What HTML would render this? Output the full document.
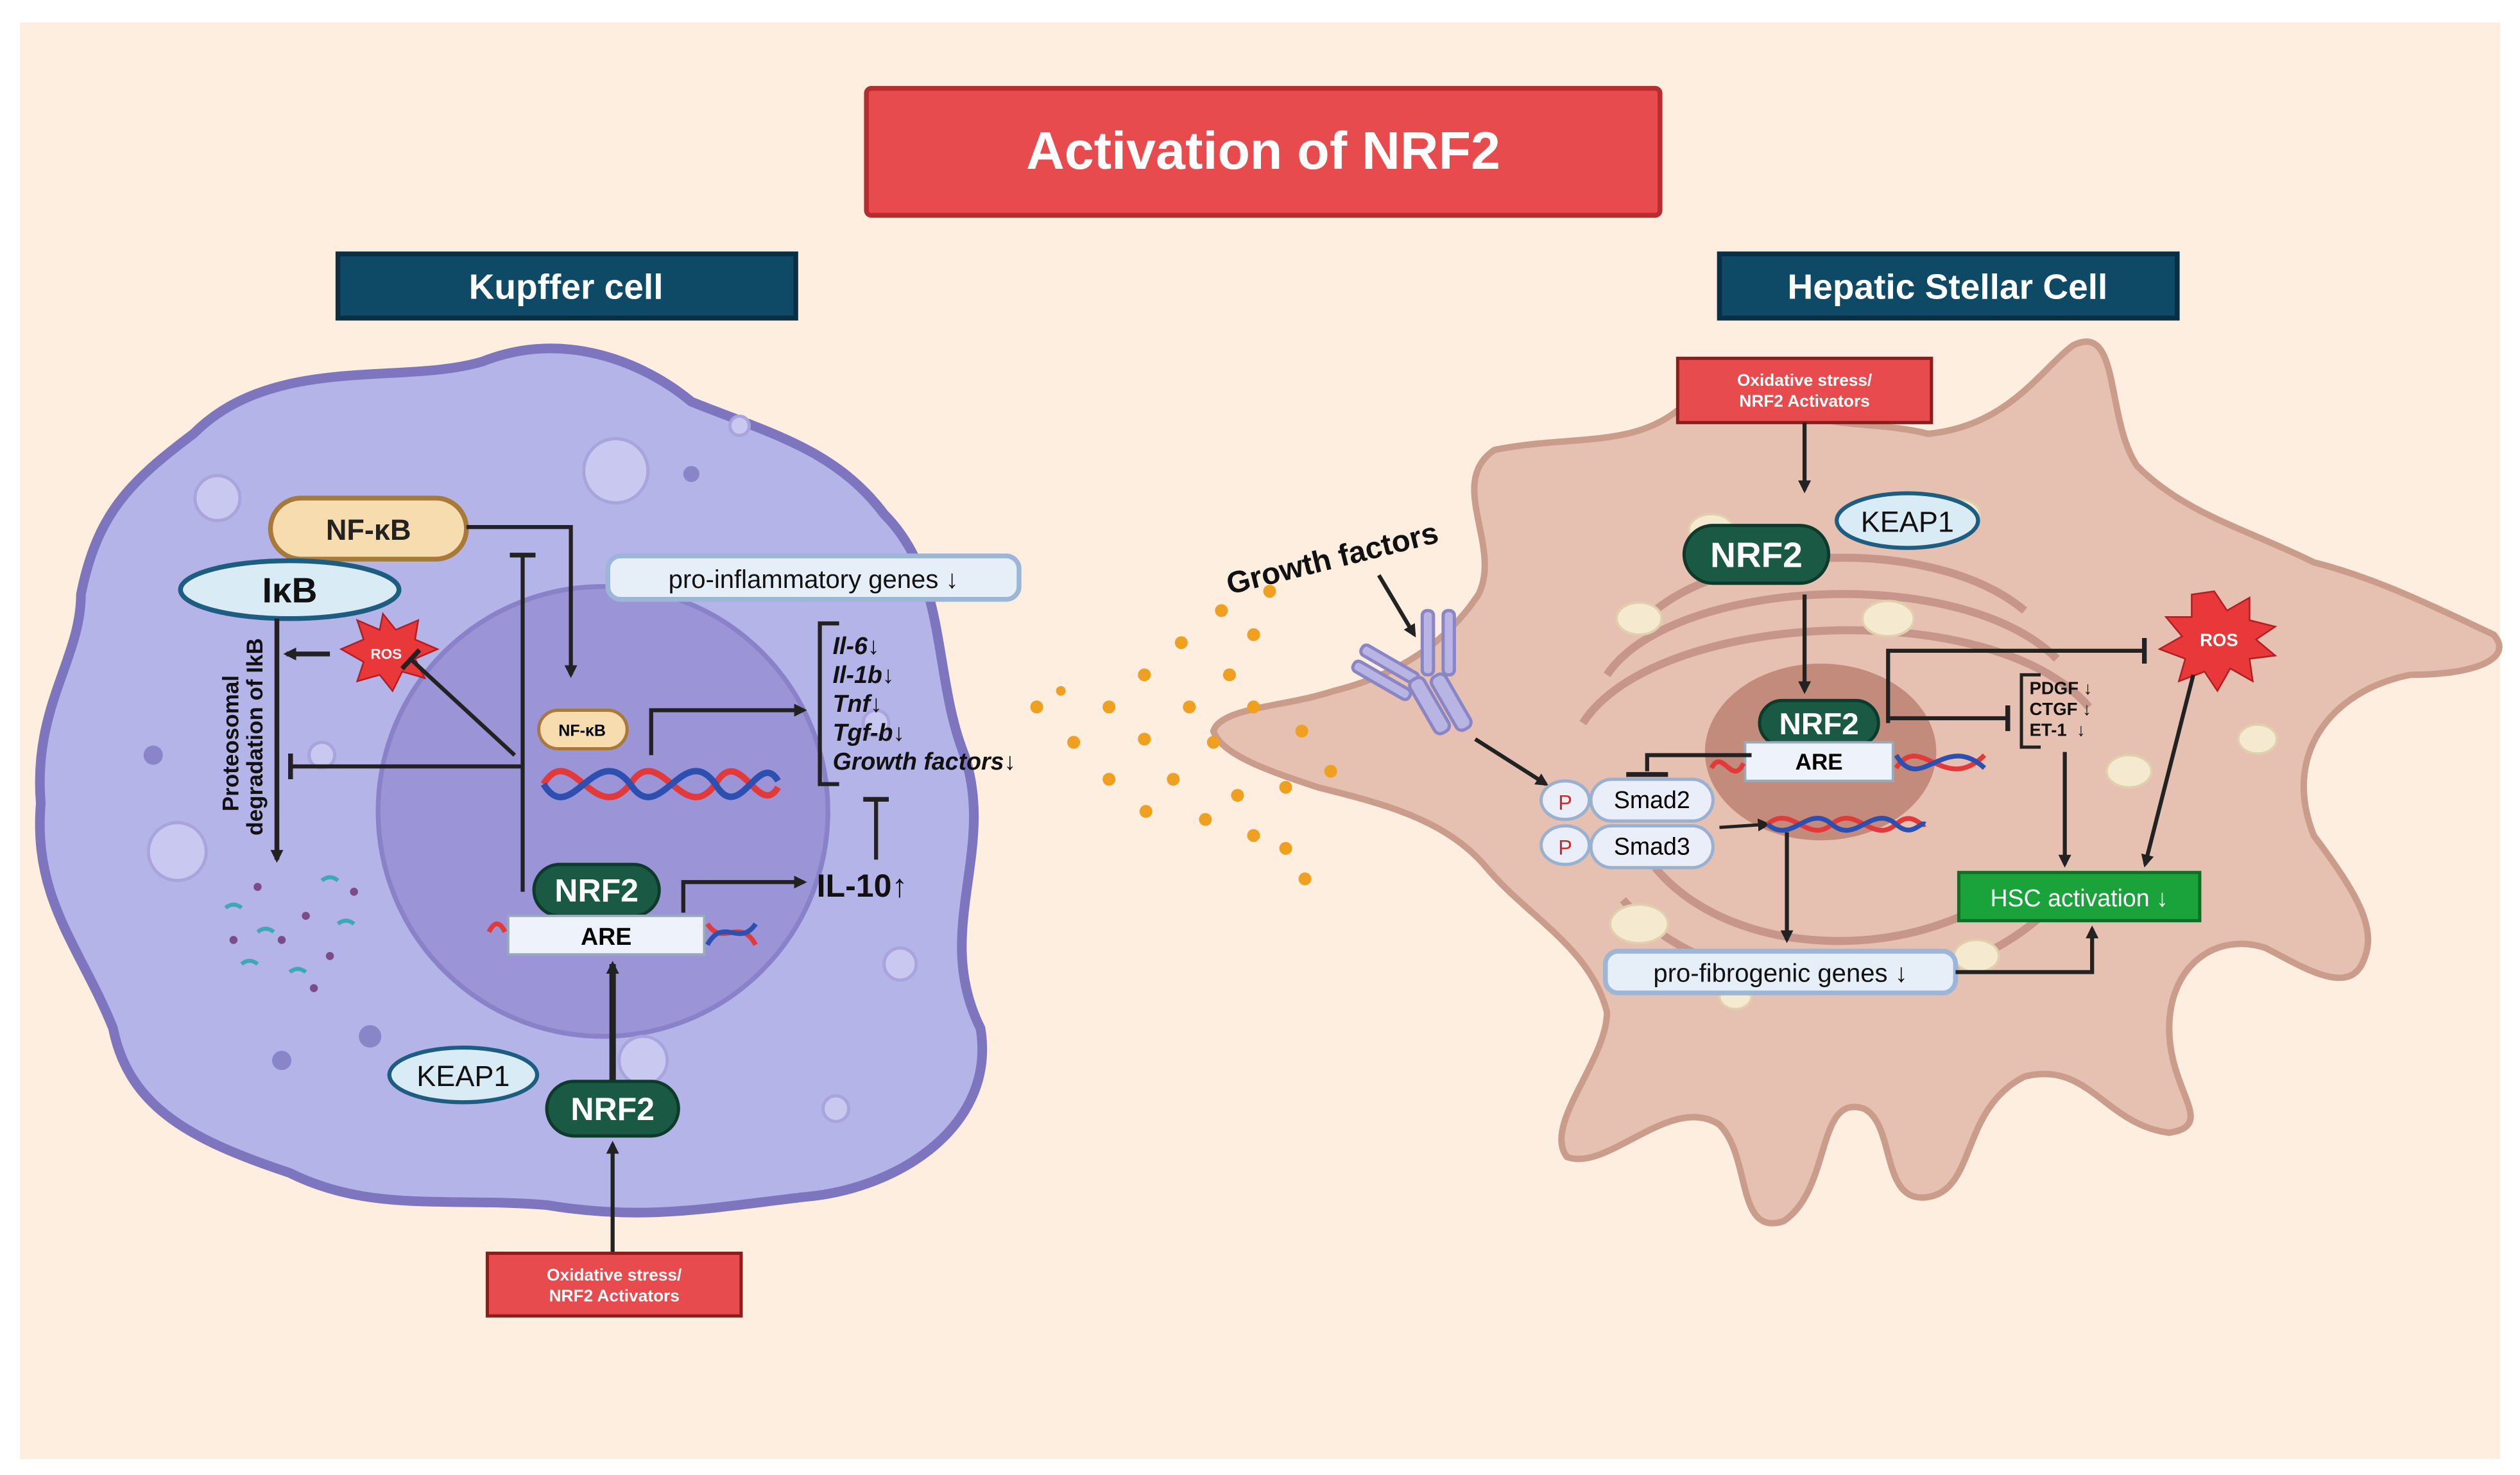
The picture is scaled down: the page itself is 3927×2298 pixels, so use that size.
<!DOCTYPE html>
<html><head><meta charset="utf-8"><style>
html,body{margin:0;padding:0;background:#fff;}
svg{display:block;}
text{font-family:"Liberation Sans",sans-serif;}
</style></head><body>
<svg width="3927" height="2298" viewBox="0 0 1568 918" xmlns="http://www.w3.org/2000/svg">
<defs>
<marker id="ar" markerWidth="8" markerHeight="8" refX="6" refY="4" orient="auto" markerUnits="userSpaceOnUse"><path d="M0,0 L8,4 L0,8 z" fill="#222"/></marker>
<marker id="tb" markerWidth="4" markerHeight="16" refX="2" refY="8" orient="auto" markerUnits="userSpaceOnUse"><rect x="0" y="0" width="3" height="16" fill="#222"/></marker>
</defs>
<rect width="1568" height="918" fill="#fff"/>
<rect x="12" y="14" width="1544" height="894" fill="#fdeedf"/>

<!-- Kupffer cell -->
<path d="M120,270 C170,220 250,240 300,225 C350,205 400,225 430,250 C480,270 520,280 550,320 C590,360 580,420 600,470 C620,530 580,580 610,640 C620,700 560,740 500,745 C440,752 400,760 340,750 C280,745 230,755 180,730 C120,710 80,690 70,640 C50,590 20,560 25,500 C20,440 50,410 50,370 C60,320 80,300 120,270 Z" fill="#b4b4e8" stroke="#7d76bf" stroke-width="6"/>
<circle cx="375" cy="505" r="140" fill="#9b95d8" stroke="#8a82c8" stroke-width="3"/>
<g fill="#c8c8f0" stroke="#a9a4dc" stroke-width="2">
<circle cx="383" cy="293" r="20"/><circle cx="135" cy="310" r="14"/><circle cx="110" cy="530" r="18"/><circle cx="400" cy="660" r="15"/><circle cx="200" cy="470" r="8"/><circle cx="545" cy="450" r="8"/><circle cx="460" cy="265" r="6"/><circle cx="560" cy="600" r="10"/><circle cx="520" cy="690" r="8"/>
</g>
<g fill="#8a85c8"><circle cx="230" cy="645" r="7"/><circle cx="175" cy="660" r="6"/><circle cx="430" cy="295" r="5"/><circle cx="95" cy="470" r="6"/></g>

<!-- HSC -->
<path d="M930,280 C980,270 1020,280 1050,250 C1060,225 1090,215 1100,240 C1120,270 1160,260 1200,270 C1250,265 1270,230 1290,215 C1320,200 1310,260 1330,290 C1360,320 1400,330 1440,350 C1480,360 1520,380 1552,395 C1565,410 1540,420 1500,420 C1450,430 1420,470 1440,520 C1470,560 1480,580 1470,600 C1460,620 1430,600 1410,590 C1380,580 1350,600 1350,640 C1350,680 1380,700 1350,705 C1310,700 1300,660 1260,670 C1220,690 1230,740 1200,745 C1170,750 1180,700 1160,690 C1130,680 1140,740 1110,760 C1080,770 1090,720 1070,700 C1040,680 1000,730 975,720 C960,700 1000,660 1000,630 C990,590 950,570 925,540 C900,510 860,500 820,490 C790,480 760,470 755,455 C760,440 800,440 830,430 C870,420 900,400 920,370 C935,340 900,300 930,280 Z" fill="#e6c0b0" stroke="#c99c8c" stroke-width="4"/>
<g fill="none" stroke="#c7968a" stroke-width="5">
<path d="M1020,390 C1060,340 1200,330 1260,380"/><path d="M1000,420 C1040,360 1220,350 1280,410"/><path d="M985,450 C1030,380 1240,370 1300,440"/>
<path d="M1030,540 C1080,600 1200,600 1260,545"/><path d="M1010,560 C1070,630 1220,630 1280,560"/>
</g>
<ellipse cx="1133" cy="468" rx="72" ry="55" fill="#c38b7c"/>
<g fill="#f5ead0" stroke="#e0d0b0" stroke-width="1.5">
<ellipse cx="1065" cy="330" rx="14" ry="10"/><ellipse cx="1175" cy="385" rx="16" ry="11"/><ellipse cx="1020" cy="385" rx="14" ry="10"/><ellipse cx="1325" cy="480" rx="14" ry="10"/><ellipse cx="1020" cy="575" rx="18" ry="12"/><ellipse cx="1230" cy="595" rx="14" ry="10"/><ellipse cx="1220" cy="320" rx="12" ry="9"/><ellipse cx="1405" cy="460" rx="12" ry="9"/><ellipse cx="1080" cy="620" rx="10" ry="8"/>
</g>

<!-- Title -->
<rect x="539" y="55" width="494" height="79" rx="3" fill="#e84b4d" stroke="#b52d2f" stroke-width="3"/>
<text x="786" y="105" text-anchor="middle" font-size="33" font-weight="bold" fill="#fff">Activation of NRF2</text>
<rect x="210" y="158" width="285" height="40" fill="#0e4966" stroke="#0a2f42" stroke-width="3"/>
<text x="352" y="186" text-anchor="middle" font-size="22" font-weight="bold" fill="#fff">Kupffer cell</text>
<rect x="1070" y="158" width="285" height="40" fill="#0e4966" stroke="#0a2f42" stroke-width="3"/>
<text x="1212" y="186" text-anchor="middle" font-size="22" font-weight="bold" fill="#fff">Hepatic Stellar Cell</text>

<!-- Kupffer contents -->
<rect x="168" y="310" width="122" height="38" rx="19" fill="#f6dcae" stroke="#a87a3a" stroke-width="3"/>
<text x="229" y="336" text-anchor="middle" font-size="18" font-weight="bold" fill="#222">NF-κB</text>
<ellipse cx="180" cy="367" rx="68" ry="18" fill="#d9ecf6" stroke="#1d5d82" stroke-width="3"/>
<text x="180" y="375" text-anchor="middle" font-size="22" font-weight="bold" fill="#111">IκB</text>
<polygon points="238,382 246,392 260,386 258,398 272,404 258,410 264,422 250,418 244,430 236,420 222,424 226,412 212,404 226,398 222,386 236,392" fill="#e8383a" stroke="#b01f22"/>
<text x="240" y="410" text-anchor="middle" font-size="9" font-weight="bold" fill="#fff">ROS</text>
<line x1="205" y1="407" x2="178" y2="407" stroke="#222" stroke-width="3" marker-end="url(#ar)"/>
<line x1="172" y1="385" x2="172" y2="535" stroke="#222" stroke-width="3" marker-end="url(#ar)"/>
<text transform="translate(148,505) rotate(-90)" font-size="14" font-weight="bold" fill="#111">Proteosomal</text>
<text transform="translate(163,520) rotate(-90)" font-size="14" font-weight="bold" fill="#111">degradation of IkB</text>
<g stroke-width="2.5" fill="none">
<path d="M140,565 q5,-4 10,0" stroke="#3fa7b5"/><path d="M200,548 q5,-4 10,0" stroke="#3fa7b5"/><path d="M150,600 q5,-4 10,0" stroke="#3fa7b5"/><path d="M180,605 q5,-4 10,0" stroke="#3fa7b5"/><path d="M210,575 q5,-4 10,0" stroke="#3fa7b5"/><path d="M160,580 q5,-4 10,0" stroke="#3fa7b5"/>
</g>
<g fill="#7a4c8a"><circle cx="160" cy="552" r="2.5"/><circle cx="190" cy="570" r="2.5"/><circle cx="175" cy="585" r="2.5"/><circle cx="205" cy="595" r="2.5"/><circle cx="220" cy="555" r="2.5"/><circle cx="145" cy="585" r="2.5"/><circle cx="195" cy="615" r="2.5"/></g>

<path d="M290,328 L355,328 L355,420" fill="none" stroke="#222" stroke-width="2.5" marker-end="url(#ar)"/>
<line x1="325" y1="555" x2="325" y2="345" stroke="#222" stroke-width="2.5" marker-end="url(#tb)"/>
<path d="M325,477 L180,477" fill="none" stroke="#222" stroke-width="2.5" marker-end="url(#tb)"/>
<line x1="320" y1="470" x2="255" y2="410" stroke="#222" stroke-width="2.5" marker-end="url(#tb)"/>
<rect x="335" y="442" width="55" height="24" rx="12" fill="#f6dcae" stroke="#a87a3a" stroke-width="2"/>
<text x="362" y="458" text-anchor="middle" font-size="10" font-weight="bold">NF-κB</text>
<path d="M338,488 C355,460 370,516 392,488 C410,460 425,516 445,488 C460,462 472,510 484,490" stroke="#e23a3a" stroke-width="4" fill="none"/>
<path d="M338,488 C355,516 370,460 392,488 C410,516 425,460 445,488 C460,514 472,466 484,486" stroke="#2c4fb0" stroke-width="4" fill="none"/>
<path d="M405,470 L405,442 L500,442" fill="none" stroke="#222" stroke-width="2.5" marker-end="url(#ar)"/>
<rect x="378" y="346" width="256" height="27" rx="8" fill="#e6eef8" stroke="#9cb6d8" stroke-width="3"/>
<text x="506" y="366" text-anchor="middle" font-size="16" fill="#111">pro-inflammatory genes ↓</text>
<path d="M522,388 L510,388 L510,488 L522,488" fill="none" stroke="#222" stroke-width="2.5"/>
<g font-size="15" font-weight="bold" font-style="italic" fill="#111">
<text x="518" y="407">Il-6↓</text><text x="518" y="425">Il-1b↓</text><text x="518" y="443">Tnf↓</text><text x="518" y="461">Tgf-b↓</text><text x="518" y="479">Growth factors↓</text>
</g>
<line x1="545" y1="535" x2="545" y2="497" stroke="#222" stroke-width="2.5" marker-end="url(#tb)"/>
<rect x="332" y="538" width="78" height="32" rx="16" fill="#1a5a44" stroke="#0d3a2a" stroke-width="2"/>
<text x="371" y="561" text-anchor="middle" font-size="20" font-weight="bold" fill="#fff">NRF2</text>
<rect x="316" y="570" width="122" height="24" fill="#eef2fa" stroke="#9ab" stroke-width="1.5"/>
<text x="377" y="588" text-anchor="middle" font-size="15" font-weight="bold">ARE</text>
<path d="M304,580 q5,-10 10,0" stroke="#e23a3a" stroke-width="3" fill="none"/>
<path d="M440,575 C450,590 460,570 470,588" stroke="#e23a3a" stroke-width="3" fill="none"/>
<path d="M440,588 C450,570 460,590 470,575" stroke="#2c4fb0" stroke-width="3" fill="none"/>
<path d="M425,568 L425,549 L500,549" fill="none" stroke="#222" stroke-width="2.5" marker-end="url(#ar)"/>
<text x="508" y="558" font-size="20" font-weight="bold" fill="#111">IL-10↑</text>
<line x1="381" y1="676" x2="381" y2="600" stroke="#222" stroke-width="4" marker-end="url(#ar)"/>
<ellipse cx="288" cy="669" rx="46" ry="17" fill="#d9ecf6" stroke="#1d5d82" stroke-width="2.5"/>
<text x="288" y="676" text-anchor="middle" font-size="18" fill="#111">KEAP1</text>
<rect x="340" y="673" width="82" height="34" rx="17" fill="#1a5a44" stroke="#0d3a2a" stroke-width="2"/>
<text x="381" y="697" text-anchor="middle" font-size="20" font-weight="bold" fill="#fff">NRF2</text>
<line x1="381" y1="780" x2="381" y2="712" stroke="#222" stroke-width="2.5" marker-end="url(#ar)"/>
<rect x="303" y="780" width="158" height="39" fill="#e84b4d" stroke="#8a1e1e" stroke-width="2"/>
<text x="382" y="797" text-anchor="middle" font-size="10.5" font-weight="bold" fill="#fff">Oxidative stress/</text>
<text x="382" y="810" text-anchor="middle" font-size="10.5" font-weight="bold" fill="#fff">NRF2 Activators</text>

<!-- Growth factor dots -->
<g fill="#f0a020">
<circle cx="645" cy="440" r="4"/><circle cx="668" cy="462" r="4"/><circle cx="690" cy="440" r="4"/><circle cx="712" cy="420" r="4"/><circle cx="735" cy="400" r="4"/><circle cx="760" cy="380" r="4"/><circle cx="790" cy="368" r="4"/><circle cx="690" cy="485" r="4"/><circle cx="712" cy="460" r="4"/><circle cx="740" cy="440" r="4"/><circle cx="765" cy="420" r="4"/><circle cx="780" cy="395" r="4"/><circle cx="730" cy="485" r="4"/><circle cx="755" cy="462" r="4"/><circle cx="780" cy="440" r="4"/><circle cx="810" cy="455" r="4"/><circle cx="750" cy="510" r="4"/><circle cx="770" cy="495" r="4"/><circle cx="800" cy="490" r="4"/><circle cx="828" cy="480" r="4"/><circle cx="800" cy="528" r="4"/><circle cx="812" cy="547" r="4"/><circle cx="780" cy="520" r="4"/><circle cx="713" cy="505" r="4"/><circle cx="660" cy="430" r="3"/>
</g>
<text transform="translate(765,370) rotate(-14)" font-size="19" font-weight="bold" fill="#111">Growth factors</text>
<line x1="858" y1="358" x2="880" y2="395" stroke="#222" stroke-width="2.5" marker-end="url(#ar)"/>
<g stroke="#8a86c4" stroke-width="2" fill="#b8b4e4">
<rect x="885" y="380" width="7" height="40" rx="3"/><rect x="898" y="380" width="7" height="40" rx="3"/>
<rect x="845" y="410" width="40" height="7" rx="3" transform="rotate(30 865 413)"/><rect x="840" y="420" width="40" height="7" rx="3" transform="rotate(30 860 423)"/>
<rect x="885" y="420" width="10" height="38" rx="4" transform="rotate(-30 890 440)"/><rect x="898" y="418" width="10" height="38" rx="4" transform="rotate(-30 903 437)"/>
</g>
<line x1="918" y1="460" x2="962" y2="488" stroke="#222" stroke-width="2.5" marker-end="url(#ar)"/>

<!-- HSC contents -->
<rect x="1044" y="223" width="158" height="40" fill="#e84b4d" stroke="#8a1e1e" stroke-width="2"/>
<text x="1123" y="240" text-anchor="middle" font-size="10.5" font-weight="bold" fill="#fff">Oxidative stress/</text>
<text x="1123" y="253" text-anchor="middle" font-size="10.5" font-weight="bold" fill="#fff">NRF2 Activators</text>
<line x1="1123" y1="263" x2="1123" y2="305" stroke="#222" stroke-width="2.5" marker-end="url(#ar)"/>
<ellipse cx="1187" cy="324" rx="44" ry="17" fill="#d9ecf6" stroke="#1d5d82" stroke-width="2.5"/>
<text x="1187" y="331" text-anchor="middle" font-size="18" fill="#111">KEAP1</text>
<rect x="1048" y="327" width="90" height="36" rx="18" fill="#1a5a44" stroke="#0d3a2a" stroke-width="2"/>
<text x="1093" y="353" text-anchor="middle" font-size="22" font-weight="bold" fill="#fff">NRF2</text>
<line x1="1123" y1="370" x2="1123" y2="430" stroke="#222" stroke-width="2.5" marker-end="url(#ar)"/>
<rect x="1095" y="436" width="74" height="28" rx="14" fill="#1a5a44" stroke="#0d3a2a" stroke-width="2"/>
<text x="1132" y="457" text-anchor="middle" font-size="19" font-weight="bold" fill="#fff">NRF2</text>
<rect x="1086" y="462" width="92" height="24" fill="#eef2fa" stroke="#9ab" stroke-width="1.5"/>
<text x="1132" y="479" text-anchor="middle" font-size="14" font-weight="bold">ARE</text>
<path d="M1180,478 C1195,455 1210,495 1235,470" stroke="#e23a3a" stroke-width="3" fill="none"/>
<path d="M1180,470 C1195,495 1210,455 1235,478" stroke="#2c4fb0" stroke-width="3" fill="none"/>
<path d="M1065,478 C1072,465 1078,490 1085,475" stroke="#e23a3a" stroke-width="3" fill="none"/>
<path d="M1090,470 L1025,470 L1025,480" fill="none" stroke="#222" stroke-width="2.5"/>
<line x1="1012" y1="482" x2="1038" y2="482" stroke="#222" stroke-width="3"/>
<path d="M1175,450 L1175,405 L1335,405" fill="none" stroke="#222" stroke-width="2.5" marker-end="url(#tb)"/>
<line x1="1175" y1="447" x2="1250" y2="447" stroke="#222" stroke-width="2.5" marker-end="url(#tb)"/>
<path d="M1270,420 L1258,420 L1258,465 L1270,465" fill="none" stroke="#222" stroke-width="2"/>
<g font-size="11" font-weight="bold" fill="#111"><text x="1263" y="432">PDGF ↓</text><text x="1263" y="445">CTGF ↓</text><text x="1263" y="458">ET-1 &#160;↓</text></g>
<line x1="1285" y1="468" x2="1285" y2="538" stroke="#222" stroke-width="2.5" marker-end="url(#ar)"/>
<polygon points="1378,368 1386,380 1400,372 1400,386 1416,390 1404,398 1416,408 1400,410 1402,424 1388,416 1380,430 1372,418 1356,424 1360,410 1344,404 1358,396 1348,384 1364,384 1364,370" fill="#e8383a" stroke="#b01f22"/>
<text x="1381" y="402" text-anchor="middle" font-size="11" font-weight="bold" fill="#fff">ROS</text>
<line x1="1365" y1="420" x2="1335" y2="538" stroke="#222" stroke-width="2.5" marker-end="url(#ar)"/>
<rect x="1219" y="543" width="150" height="30" fill="#19a33a" stroke="#0d6e24" stroke-width="2"/>
<text x="1294" y="564" text-anchor="middle" font-size="15" fill="#fff">HSC activation ↓</text>
<ellipse cx="974" cy="498" rx="15" ry="12" fill="#e9eef8" stroke="#9ab0d0" stroke-width="2"/>
<text x="974" y="504" text-anchor="middle" font-size="13" fill="#e02020">P</text>
<rect x="990" y="485" width="76" height="26" rx="13" fill="#e9eef8" stroke="#9ab0d0" stroke-width="2"/>
<text x="1028" y="503" text-anchor="middle" font-size="15">Smad2</text>
<ellipse cx="974" cy="526" rx="15" ry="12" fill="#e9eef8" stroke="#9ab0d0" stroke-width="2"/>
<text x="974" y="532" text-anchor="middle" font-size="13" fill="#e02020">P</text>
<rect x="990" y="514" width="76" height="26" rx="13" fill="#e9eef8" stroke="#9ab0d0" stroke-width="2"/>
<text x="1028" y="532" text-anchor="middle" font-size="15">Smad3</text>
<line x1="1070" y1="515" x2="1100" y2="513" stroke="#222" stroke-width="2" marker-end="url(#ar)"/>
<path d="M1100,513 C1115,500 1125,526 1140,513 C1155,500 1165,526 1180,513 C1190,504 1195,515 1198,513" stroke="#e23a3a" stroke-width="3" fill="none"/>
<path d="M1100,513 C1115,526 1125,500 1140,513 C1155,526 1165,500 1180,513 C1190,522 1195,511 1198,513" stroke="#2c4fb0" stroke-width="3" fill="none"/>
<line x1="1112" y1="518" x2="1112" y2="585" stroke="#222" stroke-width="2.5" marker-end="url(#ar)"/>
<rect x="999" y="592" width="218" height="26" rx="8" fill="#e6eef8" stroke="#9cb6d8" stroke-width="3"/>
<text x="1108" y="611" text-anchor="middle" font-size="16" fill="#111">pro-fibrogenic genes ↓</text>
<path d="M1217,605 L1302,605 L1302,578" fill="none" stroke="#222" stroke-width="2.5" marker-end="url(#ar)"/>
</svg>
</body></html>
